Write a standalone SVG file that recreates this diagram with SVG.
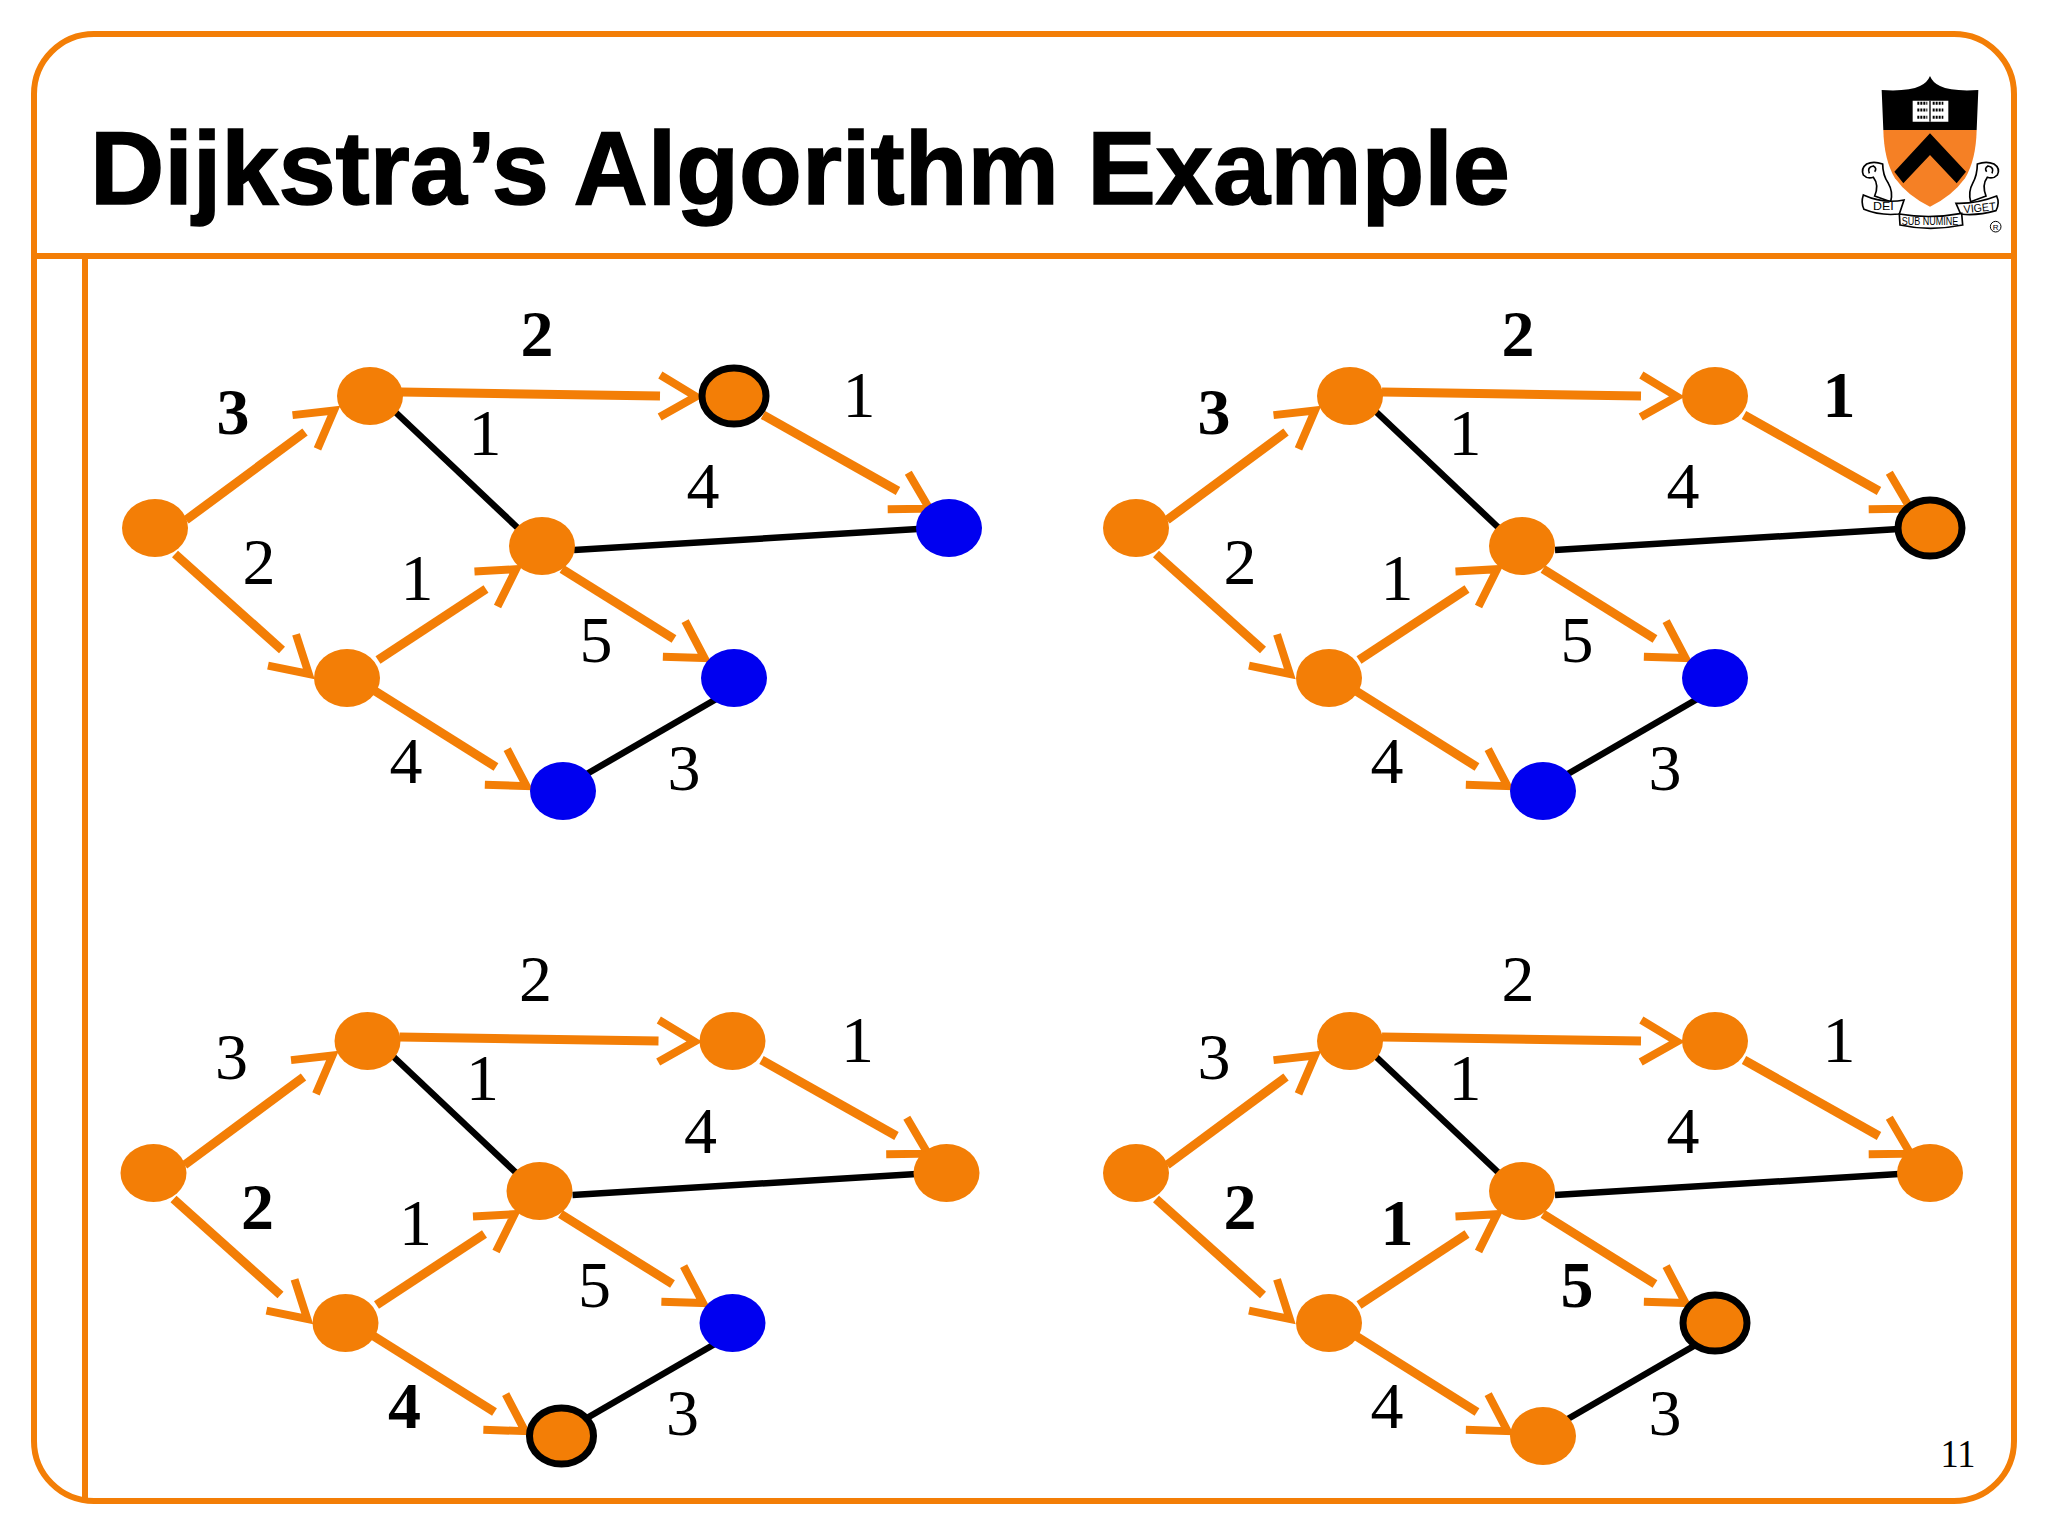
<svg xmlns="http://www.w3.org/2000/svg" width="2048" height="1536" viewBox="0 0 2048 1536">
<style>
.fr{fill:none;stroke:#f37e06;stroke-width:6}
.e{stroke:#f37e06;stroke-width:9;fill:none;marker-end:url(#chev)}
.k{stroke:#000;stroke-width:6.5;fill:none}
.o{fill:#f37e06}
.b{fill:#0000f0}
.r{fill:#f37e06;stroke:#000;stroke-width:7}
text{fill:#000}
.n{font-family:"Liberation Serif","Times New Roman",serif;font-size:66px;text-anchor:middle}
.s{font-weight:bold}
.lg{font-family:"Liberation Sans",Arial,sans-serif;font-size:34px;text-anchor:middle}
.sc{fill:#fff;stroke:#000;stroke-width:5}
</style>
<defs>
<marker id="chev" markerUnits="userSpaceOnUse" viewBox="-6 -30 60 60" markerWidth="60" markerHeight="60" refX="0" refY="0" orient="auto">
<polyline points="0,-21 36,0 0,21" fill="none" stroke="#f37e06" stroke-width="8"/>
</marker>
</defs>
<rect fill="#fff" width="2048" height="1536"/>
<g id="frame">
<rect class="fr" x="34" y="34" width="1980" height="1467" rx="60" ry="60"/>
<line class="fr" x1="34" y1="256" x2="2014" y2="256"/>
<line class="fr" x1="85" y1="256" x2="85" y2="1501"/>
</g>
<text id="title" x="90" y="204" font-family="Liberation Sans,Arial,sans-serif" font-weight="bold" font-size="103" stroke="#000" stroke-width="1.5" textLength="1420" lengthAdjust="spacingAndGlyphs">Dijkstra’s Algorithm Example</text>
<text id="page" x="1958" y="1467" font-family="Liberation Serif,serif" font-size="40" text-anchor="middle" textLength="35" lengthAdjust="spacingAndGlyphs">11</text>

<g id="logo" transform="translate(1840,60) scale(.33333)">
<path d="M125 90 Q205 95 240 78 Q262 68 270 48 Q278 68 300 78 Q335 95 415 90 L410 210 L130 210Z" fill="#000"/>
<path d="M130 210 L410 210 Q408 300 375 355 Q335 410 270 440 Q205 410 165 355 Q132 300 130 210Z" fill="#f58025"/>
<path d="M270 220 L378 335 L350 370 L270 285 L190 370 L163 335Z" fill="#000"/>
<path d="M218 122 H325 V185 H218Z" fill="#fff"/>
<path d="M232 130 H262 M278 130 H310 M232 150 H262 M278 150 H310 M232 172 H262 M278 172 H310" stroke="#000" stroke-width="9" stroke-dasharray="6 3" fill="none"/>
<line x1="270" y1="122" x2="270" y2="185" stroke="#000" stroke-width="4"/>
<path class="sc" d="M128 312 Q100 302 80 312 Q62 325 70 345 Q82 358 100 352 Q118 375 104 408 L152 425 Q160 395 145 370 Q128 345 128 312Z"/>
<path class="sc" d="M88 340 Q80 322 100 318 Q112 325 104 335"/>
<path class="sc" d="M412 312 Q440 302 462 312 Q482 325 472 345 Q460 358 442 352 Q425 375 438 408 L392 425 Q384 395 398 370 Q412 345 412 312Z"/>
<path class="sc" d="M456 340 Q464 322 444 318 Q432 325 440 335"/>
<path class="sc" d="M70 405 Q130 432 192 420 L178 462 Q120 468 72 448 Q62 428 70 405Z"/>
<path class="sc" d="M348 430 Q410 432 470 408 Q480 430 468 452 Q410 468 362 462Z"/>
<path class="sc" d="M178 462 Q270 478 365 460 L368 495 Q270 515 180 495Z"/>
<text class="lg" x="130" y="449" textLength="62" lengthAdjust="spacingAndGlyphs">DEI</text>
<text class="lg" x="270" y="495" textLength="170" lengthAdjust="spacingAndGlyphs">SUB NUMINE</text>
<text class="lg" x="420" y="455" textLength="96" lengthAdjust="spacingAndGlyphs" transform="rotate(-6 420 455)">VIGET</text>
<circle cx="467" cy="500" r="16" fill="none" stroke="#000" stroke-width="3"/>
<text x="467" y="509" font-family="Liberation Sans,sans-serif" font-size="24" text-anchor="middle">R</text>
</g>

<g id="connectors">
<g id="edges-1">
<line class="e" x1="186" y1="520" x2="305" y2="432"/><line class="e" x1="175" y1="554" x2="282" y2="650"/><line class="e" x1="401" y1="392" x2="660" y2="396"/><line class="e" x1="763" y1="415" x2="898" y2="491"/><line class="e" x1="378" y1="660" x2="486" y2="589"/><line class="e" x1="562" y1="569" x2="674" y2="639"/><line class="e" x1="375" y1="691" x2="496" y2="767"/>
<line class="k" x1="390" y1="407" x2="521" y2="531"/><line class="k" x1="574" y1="550" x2="918" y2="529"/><line class="k" x1="585" y1="775" x2="718" y2="698"/>
</g>
<g id="edges-2" transform="translate(981,0)">
<line class="e" x1="186" y1="520" x2="305" y2="432"/><line class="e" x1="175" y1="554" x2="282" y2="650"/><line class="e" x1="401" y1="392" x2="660" y2="396"/><line class="e" x1="763" y1="415" x2="898" y2="491"/><line class="e" x1="378" y1="660" x2="486" y2="589"/><line class="e" x1="562" y1="569" x2="674" y2="639"/><line class="e" x1="375" y1="691" x2="496" y2="767"/>
<line class="k" x1="390" y1="407" x2="521" y2="531"/><line class="k" x1="574" y1="550" x2="918" y2="529"/><line class="k" x1="585" y1="775" x2="718" y2="698"/>
</g>
<g id="edges-3" transform="translate(-1.5,645)">
<line class="e" x1="186" y1="520" x2="305" y2="432"/><line class="e" x1="175" y1="554" x2="282" y2="650"/><line class="e" x1="401" y1="392" x2="660" y2="396"/><line class="e" x1="763" y1="415" x2="898" y2="491"/><line class="e" x1="378" y1="660" x2="486" y2="589"/><line class="e" x1="562" y1="569" x2="674" y2="639"/><line class="e" x1="375" y1="691" x2="496" y2="767"/>
<line class="k" x1="390" y1="407" x2="521" y2="531"/><line class="k" x1="574" y1="550" x2="918" y2="529"/><line class="k" x1="585" y1="775" x2="718" y2="698"/>
</g>
<g id="edges-4" transform="translate(981,645)">
<line class="e" x1="186" y1="520" x2="305" y2="432"/><line class="e" x1="175" y1="554" x2="282" y2="650"/><line class="e" x1="401" y1="392" x2="660" y2="396"/><line class="e" x1="763" y1="415" x2="898" y2="491"/><line class="e" x1="378" y1="660" x2="486" y2="589"/><line class="e" x1="562" y1="569" x2="674" y2="639"/><line class="e" x1="375" y1="691" x2="496" y2="767"/>
<line class="k" x1="390" y1="407" x2="521" y2="531"/><line class="k" x1="574" y1="550" x2="918" y2="529"/><line class="k" x1="585" y1="775" x2="718" y2="698"/>
</g>
</g>

<g id="panel-1">
<g id="p1-a"><ellipse class="o" cx="155" cy="528" rx="33" ry="29"/></g>
<g id="p1-b"><ellipse class="o" cx="370" cy="396" rx="33" ry="29"/></g>
<g id="p1-c"><ellipse class="r" cx="734" cy="396" rx="32" ry="28"/></g>
<g id="p1-d"><ellipse class="b" cx="949" cy="528" rx="33" ry="29"/></g>
<g id="p1-e"><ellipse class="o" cx="542" cy="546" rx="33" ry="29"/></g>
<g id="p1-f"><ellipse class="b" cx="734" cy="678" rx="33" ry="29"/></g>
<g id="p1-g"><ellipse class="o" cx="347" cy="678" rx="33" ry="29"/></g>
<g id="p1-h"><ellipse class="b" cx="563" cy="791" rx="33" ry="29"/></g>
<text class="n s" x="537" y="356">2</text><text class="n s" x="233" y="434">3</text><text class="n" x="859" y="417">1</text><text class="n" x="485" y="455">1</text><text class="n" x="703" y="508">4</text><text class="n" x="259" y="584">2</text><text class="n" x="417" y="600">1</text><text class="n" x="596" y="662">5</text><text class="n" x="406" y="783">4</text><text class="n" x="684" y="790">3</text>
</g>
<g id="panel-2" transform="translate(981,0)">
<g id="p2-a"><ellipse class="o" cx="155" cy="528" rx="33" ry="29"/></g>
<g id="p2-b"><ellipse class="o" cx="369" cy="396" rx="33" ry="29"/></g>
<g id="p2-c"><ellipse class="o" cx="734" cy="396" rx="33" ry="29"/></g>
<g id="p2-d"><ellipse class="r" cx="949" cy="528" rx="32" ry="28"/></g>
<g id="p2-e"><ellipse class="o" cx="541" cy="546" rx="33" ry="29"/></g>
<g id="p2-f"><ellipse class="b" cx="734" cy="678" rx="33" ry="29"/></g>
<g id="p2-g"><ellipse class="o" cx="348" cy="678" rx="33" ry="29"/></g>
<g id="p2-h"><ellipse class="b" cx="562" cy="791" rx="33" ry="29"/></g>
<text class="n s" x="537" y="356">2</text><text class="n s" x="233" y="434">3</text><text class="n s" x="858" y="417">1</text><text class="n" x="484" y="455">1</text><text class="n" x="702" y="508">4</text><text class="n" x="259" y="584">2</text><text class="n" x="416" y="600">1</text><text class="n" x="596" y="662">5</text><text class="n" x="406" y="783">4</text><text class="n" x="684" y="790">3</text>
</g>
<g id="panel-3" transform="translate(-1.5,645)">
<g id="p3-a"><ellipse class="o" cx="155" cy="528" rx="33" ry="29"/></g>
<g id="p3-b"><ellipse class="o" cx="369" cy="396" rx="33" ry="29"/></g>
<g id="p3-c"><ellipse class="o" cx="734" cy="396" rx="33" ry="29"/></g>
<g id="p3-d"><ellipse class="o" cx="948" cy="528" rx="33" ry="29"/></g>
<g id="p3-e"><ellipse class="o" cx="541" cy="546" rx="33" ry="29"/></g>
<g id="p3-f"><ellipse class="b" cx="734" cy="678" rx="33" ry="29"/></g>
<g id="p3-g"><ellipse class="o" cx="347" cy="678" rx="33" ry="29"/></g>
<g id="p3-h"><ellipse class="r" cx="563" cy="791" rx="32" ry="28"/></g>
<text class="n" x="537" y="356">2</text><text class="n" x="233" y="434">3</text><text class="n" x="859" y="417">1</text><text class="n" x="484" y="455">1</text><text class="n" x="702" y="508">4</text><text class="n s" x="259" y="584">2</text><text class="n" x="417" y="600">1</text><text class="n" x="596" y="662">5</text><text class="n s" x="406" y="783">4</text><text class="n" x="684" y="790">3</text>
</g>
<g id="panel-4" transform="translate(981,645)">
<g id="p4-a"><ellipse class="o" cx="155" cy="528" rx="33" ry="29"/></g>
<g id="p4-b"><ellipse class="o" cx="369" cy="396" rx="33" ry="29"/></g>
<g id="p4-c"><ellipse class="o" cx="734" cy="396" rx="33" ry="29"/></g>
<g id="p4-d"><ellipse class="o" cx="949" cy="528" rx="33" ry="29"/></g>
<g id="p4-e"><ellipse class="o" cx="541" cy="546" rx="33" ry="29"/></g>
<g id="p4-f"><ellipse class="r" cx="734" cy="678" rx="32" ry="28"/></g>
<g id="p4-g"><ellipse class="o" cx="348" cy="678" rx="33" ry="29"/></g>
<g id="p4-h"><ellipse class="o" cx="562" cy="791" rx="33" ry="29"/></g>
<text class="n" x="537" y="356">2</text><text class="n" x="233" y="434">3</text><text class="n" x="858" y="417">1</text><text class="n" x="484" y="455">1</text><text class="n" x="702" y="508">4</text><text class="n s" x="259" y="584">2</text><text class="n s" x="416" y="600">1</text><text class="n s" x="596" y="662">5</text><text class="n" x="406" y="783">4</text><text class="n" x="684" y="790">3</text>
</g>
</svg>
